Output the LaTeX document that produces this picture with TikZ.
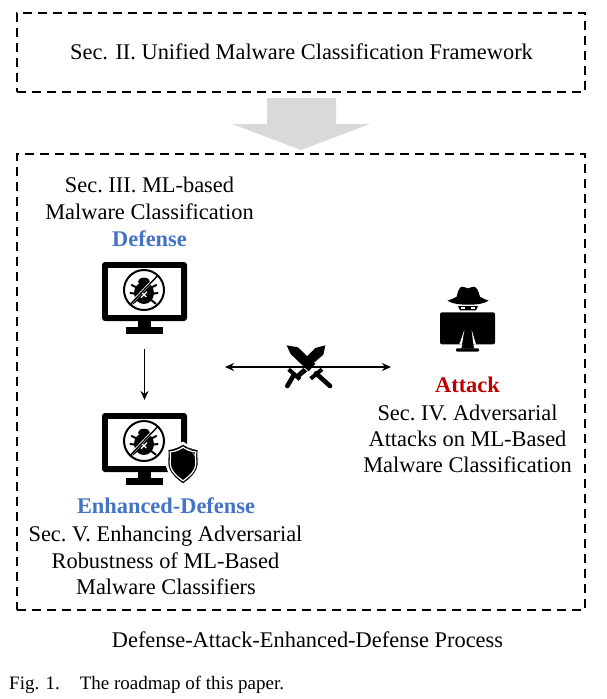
\documentclass[tikz,border=0pt]{standalone}
\usepackage{fontspec}
\usetikzlibrary{arrows.meta}
\setmainfont{Liberation Serif}
\definecolor{defblue}{HTML}{4472C4}
\definecolor{atkred}{HTML}{C00000}
\definecolor{arrowgray}{HTML}{D9D9D9}
\tikzset{
  x=1pt,y=-1pt,
  dashbox/.style={draw=black,line width=2pt,dash pattern=on 9pt off 6pt,minimum height=0pt,inner sep=0pt},
  body/.style={font=\fontsize{22.4}{26}\selectfont,align=center,inner sep=0pt,anchor=base},
  secline/.style={body,font=\fontsize{22.4}{26}\selectfont\frenchspacing},
  head/.style={font=\fontsize{22.4}{26}\selectfont\bfseries,inner sep=0pt,anchor=base},
  captext/.style={font=\fontsize{19}{22}\selectfont,inner sep=0pt,anchor=base west},
  flow/.style={draw=black,line width=1.8pt,-{Stealth[length=9pt,width=8pt]}},
  both/.style={draw=black,line width=1.8pt,{Stealth[length=9pt,width=8pt]}-{Stealth[length=9pt,width=8pt]}},
  icon/.style={inner sep=0pt,minimum width=85pt,minimum height=72pt},
  pics/monitor/.style={code={
    % origin = top left of the monitor
    \fill[black,rounded corners=3pt] (0,0) rectangle (85,59);
    \fill[white] (6,6) rectangle (79,53);
    \fill[black] (36,59) rectangle (49,68);
    \fill[black] (24,65) rectangle (61,72);
    \begin{scope}[shift={(13,3)},scale=1/3]
      % bug
      \fill[black] (87,84) ellipse [x radius=30,y radius=33];
      \fill[black] (87,50) ellipse [x radius=18,y radius=12];
      \draw[black,line width=2pt,line cap=round]
        (62,66)--(50,60) (60,86)--(46,84) (64,106)--(52,116)
        (112,66)--(124,60) (114,86)--(128,84) (110,106)--(122,116);
      \draw[white,line width=1.2pt] (78,98)--(96,80) (80,82)--(94,96);
      \draw[white,line width=2.6pt] (43,120)--(131,28);
      \draw[black,line width=2pt] (87,75) circle [radius=60];
      \draw[black,line width=1.4pt] (44,120)--(130,30);
    \end{scope}
  }}
}
\newcommand{\shieldpath}{(0,0) .. controls (4,3) and (9,5) .. (16,6) .. controls (15,12) and (16,14) .. (16,20) .. controls (16,30) and (7,37) .. (0,42) .. controls (-7,37) and (-16,30) .. (-16,20) .. controls (-16,14) and (-15,12) .. (-16,6) .. controls (-9,5) and (-4,3) .. (0,0) -- cycle}
\begin{document}
\begin{tikzpicture}
\useasboundingbox (0,0) rectangle (607,699);
% frames
\node[dashbox,minimum width=568pt,minimum height=79pt] (topframe) at (301,52.5) {};
\node[dashbox,minimum width=568pt,minimum height=456pt] (mainframe) at (301,382) {};
\node[body] (toptext) at (301.5,59) {Sec. II. Unified Malware Classification Framework};
% big grey arrow
\fill[arrowgray] (267,98) -- (336,98) -- (336,124) -- (370,124) -- (301,150) -- (232,124) -- (267,124) -- cycle;
% defense column
\node[secline] (sec3a) at (149.5,192) {Sec. III. ML-based};
\node[body] (sec3b) at (149.5,219) {Malware Classification};
\node[head,text=defblue] (deflabel) at (149.5,246) {Defense};
\node[icon] (defmon) at (144.5,298) {};
\pic at (102,262) {monitor};
\node[icon] (enhmon) at (144.5,449) {};
\pic at (102,413) {monitor};
% shield
\begin{scope}[shift={(183,443)}]
  \draw[white,line width=2.5pt,fill=black] \shieldpath;
  \begin{scope}[shift={(0,4.2)},scale=0.8]
    \draw[white,line width=1.2pt] \shieldpath;
  \end{scope}
  \foreach \px/\py in {-11,12,-12,20,-10,28,-5,35,0,38,5,35,10,28,12,20,11,12,0,7}{
    \fill[white] (\px,\py) circle [radius=0.6];
  }
\end{scope}
\coordinate (arrowtop) at (144.5,349);
\coordinate (arrowbottom) at (144.5,400);
\draw[flow] (arrowtop) -- (arrowbottom);
\node[head,text=defblue] (enhlabel) at (166,513) {Enhanced-Defense};
\node[secline] (sec5a) at (165.5,541) {Sec. V. Enhancing Adversarial};
\node[body] (sec5b) at (165.5,568) {Robustness of ML-Based};
\node[body] (sec5c) at (166,594) {Malware Classifiers};
% attack column
\node[inner sep=0pt,minimum width=55pt,minimum height=66pt] (hacker) at (467.5,319.5) {};
\begin{scope}[shift={(430,280)},scale=1/3]
  \fill[black] (52,62) .. controls (62,58) and (72,56) .. (80,50) .. controls (84,32) and (88,20) .. (98,20) .. controls (104,20) and (108,25) .. (114,25) .. controls (120,25) and (124,20) .. (130,20) .. controls (140,20) and (145,32) .. (150,50) .. controls (158,56) and (166,58) .. (176,62) .. controls (160,72) and (140,74) .. (114,74) .. controls (90,74) and (68,72) .. (52,62) -- cycle;
  \fill[black] (84,78) -- (144,78) -- (138,91) -- (90,91) -- cycle;
  \fill[white] (92,82) rectangle (104,87);
  \fill[white] (122,82) rectangle (135,87);
  \fill[black,rounded corners=2pt] (30,97) rectangle (195,193);
  \fill[white] (103,150) -- (88,193) -- (96,193) -- cycle;
  \fill[white] (125,150) -- (130,193) -- (138,193) -- cycle;
  \fill[black] (98,190) -- (130,190) -- (132,206) -- (94,206) -- cycle;
  \fill[black,rounded corners=1pt] (78,205) rectangle (147,215);
\end{scope}
\node[head,text=atkred] (atklabel) at (467.5,392) {Attack};
\node[secline] (sec4a) at (467.5,420) {Sec. IV. Adversarial};
\node[body] (sec4b) at (467.5,446) {Attacks on ML-Based};
\node[body] (sec4c) at (467.5,472) {Malware Classification};
% clash
\node[inner sep=0pt,minimum width=49pt,minimum height=43pt] (clash) at (307.5,366.5) {};
\coordinate (clashleft) at (225,367);
\coordinate (clashright) at (391,367);
\draw[both] (clashleft) -- (clashright);
% swords
\begin{scope}[shift={(278,340)},scale=1/3]
  \fill[black] (26,16) -- (60,22) -- (112,72) -- (92,94) -- (38,42) -- cycle;
  \fill[black] (142,16) -- (112,24) -- (86,50) -- (108,68) -- (136,44) -- cycle;
  \fill[black] (76,84) -- (56,102) -- (66,112) -- (88,94) -- cycle;
  \draw[black,line width=4pt] (32,88) -- (66,118);
  \draw[black,line width=4.6pt,line cap=round] (48,104) -- (28,138);
  \draw[black,line width=4pt] (98,116) -- (132,88);
  \draw[black,line width=4.6pt,line cap=round] (114,100) -- (156,138);
\end{scope}
\node[body] (process) at (307.5,647) {Defense-Attack-Enhanced-Defense Process};
\node[captext] (caption) at (9,689) {Fig. 1.\hspace{20pt}The roadmap of this paper.};
\end{tikzpicture}
\end{document}
